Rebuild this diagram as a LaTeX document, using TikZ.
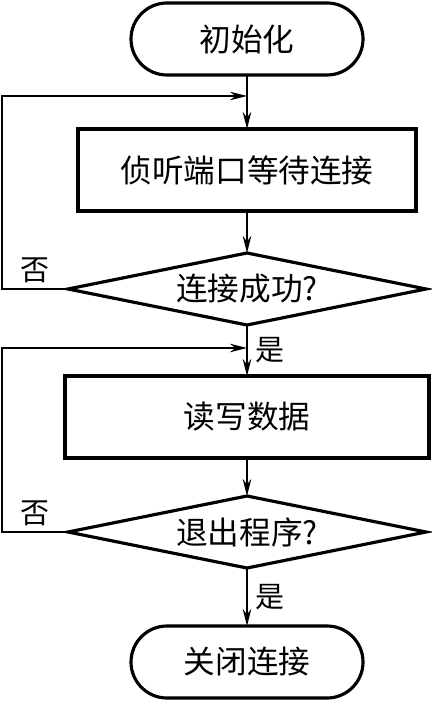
\documentclass[tikz,border=0pt]{standalone}
\usepackage{fontspec}
\newfontfamily\cjk{Noto Sans CJK SC}
\usetikzlibrary{positioning,calc,arrows.meta,shapes.geometric}

\begin{document}
\begin{tikzpicture}[font=\cjk\fontsize{18}{21}\selectfont,>={Stealth[length=3.4mm,width=1.7mm]},
          line width=1.2pt,
          t/.style={draw,line width=1.8pt,outer sep=0pt,rounded corners=7.2mm,minimum width=46.4mm,minimum height=14.4mm,inner sep=0pt},
          b/.style={draw,line width=1.8pt,outer sep=0pt,minimum height=16.4mm,inner sep=0pt},
          d/.style={draw,diamond,aspect=5,line width=1.8pt,outer sep=0pt,minimum width=71.6mm,minimum height=14.4mm,inner sep=0pt},
          lbl/.style={font=\cjk\fontsize{16.5}{19}\selectfont,inner sep=3pt}]
        \useasboundingbox (0,0) rectangle (8.64,-14.04);
        \node[t] (init) at (4.94,-0.78) {初始化};
        \node[b,minimum width=67.6mm,below=10.8mm of init] (listen) {侦听端口等待连接};
        \node[d,below=8.4mm of listen] (conn) {连接成功?};
        \node[b,minimum width=72.8mm,below=10.2mm of conn] (rw) {读写数据};
        \node[d,below=7.6mm of rw] (quit) {退出程序?};
        \node[t,below=11.6mm of quit] (close) {关闭连接};
        \coordinate[below=4.2mm of init] (j1);
        \coordinate[below=4.6mm of conn] (j2);
        \draw[->] (init) -- (listen);
        \draw[->] (listen) -- (conn);
        \draw[->] (conn) -- node[lbl,right,xshift=0.5mm]{是} (rw);
        \draw[->] (rw) -- (quit);
        \draw[->] (quit) -- node[lbl,right,xshift=0.5mm]{是} (close);
        \draw[->] (conn.west) -- node[lbl,above]{否} ++(-1.32,0) |- (j1);
        \draw[->] (quit.west) -- node[lbl,above]{否} ++(-1.32,0) |- (j2);
      \end{tikzpicture}
\end{document}
